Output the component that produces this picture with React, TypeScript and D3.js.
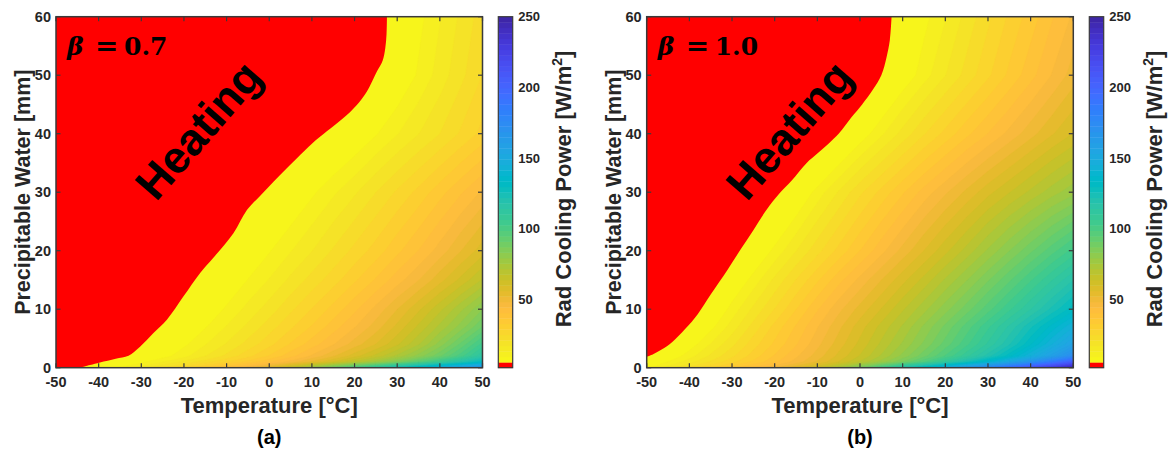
import React from 'react';
import * as d3 from 'd3';

// ---------- data ----------
const TEMPS = [-50, -45, -40, -35, -30, -25, -20, -15, -10, -5, 0, 5, 10, 15, 20, 25, 30, 35, 40, 45, 50];
const PW_LEVELS = [0, 1, 2, 4, 7, 10, 15, 20, 30, 40, 50, 60];
const X_TICKS = [-50, -40, -30, -20, -10, 0, 10, 20, 30, 40, 50];
const Y_TICKS = [0, 10, 20, 30, 40, 50, 60];
const CB_TICKS = [50, 100, 150, 200, 250];
const CB_MIN = 1.6;
const CB_MAX = 250;

// panel (a) beta = 0.7 : cooling power [W/m2] per row of precipitable water
const A_PW0 = [-5, -0.5, 4.5, 10, 15.5, 21, 27, 33, 39.5, 47, 56, 66, 78, 90, 102, 114, 126, 138, 150, 160, 170];
const A_PW1 = [-10, -6, -1, 3.5, 8, 13, 18, 23, 28.5, 34, 40, 46, 53, 60, 68, 76, 85, 95, 106, 118, 130];
const A_PW2 = [-15, -11, -6.5, -2, 3, 7.5, 12, 17, 22, 27.5, 33, 39, 45, 51.5, 58, 65, 72.5, 81, 90, 101, 114];
const A_PW4 = [-18, -14, -9.5, -5, 0, 4, 8.5, 13, 17.5, 22.5, 27.5, 33, 38.5, 44, 50, 56, 63, 71, 81, 92, 104];
const A_PW7 = [-22, -17.5, -13, -8.5, -4, 0.5, 5, 9, 13.5, 18, 23, 28, 33, 38.5, 44, 50, 57, 64.5, 72.5, 81, 91];
const A_PW10 = [-25, -21, -16.5, -12, -7.5, -2.5, 2, 6, 10, 14.5, 19, 24, 29, 34, 39.5, 45.5, 52, 59, 66.5, 74.5, 83];
const A_PW15 = [-30, -26, -21.5, -17, -12.5, -7.5, -3, 1.5, 5.5, 9.5, 13.5, 18, 22.5, 27, 32, 37, 42.5, 48, 54.5, 61, 68];
const A_PW20 = [-34, -30, -25.5, -21, -16.5, -12, -7, -2.5, 1.5, 5, 9, 13, 17, 21.5, 26, 30.5, 35.5, 40.5, 46, 52, 58];
const A_PW30 = [-44, -40, -35.5, -31, -27, -22.5, -18, -13, -8.5, -4, 1, 4.5, 8.5, 12.5, 16.5, 21, 25.5, 30, 35, 40, 45];
const A_PW40 = [-55, -51, -47, -43, -39, -35, -31, -26.5, -22, -17.5, -13, -8, -3, 1.5, 5, 9, 13, 17, 21, 25.5, 30];
const A_PW50 = [-65, -61, -57, -53, -49, -45, -41, -37, -33, -29, -25, -21, -16.5, -12, -4.5, 0, 5, 10, 15, 20, 25];
const A_PW60 = [-70, -66, -62, -58, -54, -50, -46, -42, -38, -34, -30, -26, -22, -17, -12, -3, 2.5, 8, 13, 18, 23];

// panel (b) beta = 1.0
const B_PW0 = [8, 15, 22, 28.5, 35, 41.5, 48, 55, 63, 74, 87, 103, 120, 135, 150, 165, 180, 196, 212, 228, 245];
const B_PW1 = [4, 9.5, 15.5, 21.5, 27.5, 33.5, 39.5, 46, 52.5, 60, 68, 77, 87, 98, 110, 123, 137, 152, 168, 186, 205];
const B_PW2 = [-0.5, 5.5, 11.5, 18, 24, 30.5, 37, 43.5, 50, 57, 64, 72, 80.5, 89.5, 99, 109, 120, 132, 145, 159, 174];
const B_PW4 = [-6, 0.3, 7, 13.5, 20, 27, 33.5, 40, 47, 54, 61, 68.5, 76, 84, 92.5, 101.5, 111, 121.5, 133, 145, 158];
const B_PW7 = [-13, -6.5, 0.7, 8, 15, 22.5, 30, 37, 44, 51, 58, 65, 72, 80, 88, 96.5, 105.5, 115, 125, 135, 145];
const B_PW10 = [-18, -10.5, -3.5, 3.5, 11, 18, 25, 32.5, 40, 47, 53.5, 60, 67, 74, 81.5, 89, 97, 105.5, 114, 123, 132];
const B_PW15 = [-23, -16, -9.5, -2.5, 4.5, 11, 18, 25, 32, 39, 45.5, 52, 58.5, 65, 72, 79, 86.5, 94, 102, 110, 118];
const B_PW20 = [-28, -22, -15.5, -9, -2.5, 4, 10.5, 17, 23.5, 30, 36.5, 43, 49.5, 56, 62.5, 69, 76, 83, 90, 97, 104];
const B_PW30 = [-40, -34, -28, -22, -15.5, -9, -2, 4, 11, 17.5, 24, 30, 36, 42, 47.5, 53, 58.5, 63.5, 68.5, 73.5, 78];
const B_PW40 = [-55, -50, -45, -40, -34, -27.5, -21, -14, -7, 0, 6.5, 12.5, 18.5, 24.5, 30, 35.5, 40.5, 45.5, 50.5, 55.5, 60];
const B_PW50 = [-62, -58, -54, -49, -44, -39, -33, -27, -20, -13, -6, 0, 6, 11.5, 17, 22.5, 28, 33.5, 39, 44.5, 50];
const B_PW60 = [-66, -62, -58, -53, -48, -43, -38, -32, -25, -17, -9, -3, 3, 8, 13, 18.5, 24, 29.5, 34.5, 40, 45];

// heating / cooling boundary (zero cooling power)
const A_EDGE_T = [-44.4, -42, -39.7, -36, -33, -30.3, -27.2, -24, -20.1, -16.2, -13.1, -8.4, -5.2, -2, 1, 4, 7.3, 10, 13.5, 18.2, 21, 22.9, 25.3, 26.6, 27.2, 27.5, 27.6];
const A_EDGE_PW = [0, 0.45, 0.9, 1.55, 2.05, 3.6, 5.9, 8.2, 12.2, 16.2, 18.8, 23, 27, 29.5, 31.8, 34, 36.4, 38.3, 40.4, 43.2, 45.3, 47.2, 50.7, 52.5, 54.6, 57, 60];
const B_EDGE_T = [-50, -48.5, -46.5, -44, -41, -38, -35, -31, -28, -25, -21.9, -19, -16, -12.5, -10, -5, -2, 0.5, 3, 5, 6.2, 7, 7.4];
const B_EDGE_PW = [1.85, 2.3, 3.1, 4.4, 6.6, 9.2, 12.5, 16.8, 20.2, 23.5, 27, 29.7, 32, 35, 36.6, 40, 42.8, 45, 47.5, 50, 53, 56, 60];

const FIELD_A = [A_PW0, A_PW1, A_PW2, A_PW4, A_PW7, A_PW10, A_PW15, A_PW20, A_PW30, A_PW40, A_PW50, A_PW60];
const FIELD_B = [B_PW0, B_PW1, B_PW2, B_PW4, B_PW7, B_PW10, B_PW15, B_PW20, B_PW30, B_PW40, B_PW50, B_PW60];

// ---------- colormap (parula, 64) ----------
const PARULA = [
  [0.2422, 0.1504, 0.6603], [0.2504, 0.165, 0.7076], [0.2578, 0.1818, 0.7511], [0.2647, 0.1978, 0.7952],
  [0.2706, 0.2147, 0.8364], [0.2751, 0.2342, 0.871], [0.2783, 0.2559, 0.8991], [0.2803, 0.2782, 0.9221],
  [0.2813, 0.3006, 0.9414], [0.281, 0.3228, 0.9579], [0.2795, 0.3447, 0.9717], [0.276, 0.3667, 0.9829],
  [0.2699, 0.3892, 0.9906], [0.2602, 0.4123, 0.9952], [0.244, 0.4358, 0.9988], [0.2206, 0.4603, 0.9973],
  [0.1963, 0.4847, 0.9892], [0.1834, 0.5074, 0.9798], [0.1786, 0.5289, 0.9682], [0.1764, 0.5499, 0.952],
  [0.1687, 0.5703, 0.9359], [0.154, 0.5902, 0.9218], [0.146, 0.6091, 0.9079], [0.138, 0.6276, 0.8973],
  [0.1248, 0.6459, 0.8883], [0.1113, 0.6635, 0.8763], [0.0952, 0.6798, 0.8598], [0.0689, 0.6948, 0.8394],
  [0.0297, 0.7082, 0.8163], [0.0036, 0.7203, 0.7917], [0.0067, 0.7312, 0.766], [0.0433, 0.7411, 0.7394],
  [0.0964, 0.75, 0.712], [0.1408, 0.7584, 0.6842], [0.1717, 0.767, 0.6554], [0.1938, 0.7758, 0.6251],
  [0.2161, 0.7843, 0.5923], [0.247, 0.7918, 0.5567], [0.2906, 0.7973, 0.5188], [0.3406, 0.8008, 0.4789],
  [0.3909, 0.8029, 0.4354], [0.4456, 0.8024, 0.3909], [0.5044, 0.7993, 0.348], [0.5616, 0.7942, 0.3045],
  [0.6174, 0.7876, 0.2612], [0.672, 0.7793, 0.2227], [0.7242, 0.7698, 0.191], [0.7738, 0.7598, 0.1646],
  [0.8203, 0.7498, 0.1535], [0.8634, 0.7406, 0.1596], [0.9035, 0.733, 0.1774], [0.9393, 0.7288, 0.21],
  [0.9728, 0.7298, 0.2394], [0.9956, 0.7434, 0.2371], [0.997, 0.7659, 0.2199], [0.9952, 0.7893, 0.2028],
  [0.9892, 0.8136, 0.1885], [0.9786, 0.8386, 0.1766], [0.9676, 0.8639, 0.1643], [0.961, 0.889, 0.1537],
  [0.9597, 0.9135, 0.1423], [0.9628, 0.9373, 0.1265], [0.9691, 0.9606, 0.1064], [0.9769, 0.9839, 0.0805],
].map(([r, g, b]) => d3.rgb(r * 255, g * 255, b * 255).formatHex());

const NBIN = 64;
const BIN_W = (CB_MAX - CB_MIN) / NBIN;
const binColor = (k: number) => (k <= 0 ? '#ff0000' : PARULA[63 - Math.min(63, k)]);

// ---------- layout ----------
const W = 1171;
const H = 454;
const Y0 = 16.7;
const Y1 = 367.7;
const CB_W = 14.4;
const FONT = '"Liberation Sans", Arial, Helvetica, sans-serif';
const AXC = '#262626';

const PANELS = [
  { key: 'a', x0: 56, x1: 482.5, cbX: 498.3, label: '(a)', beta: '0.7', field: FIELD_A, edgeT: A_EDGE_T, edgePW: A_EDGE_PW },
  { key: 'b', x0: 646.7, x1: 1073.3, cbX: 1089.3, label: '(b)', beta: '1.0', field: FIELD_B, edgeT: B_EDGE_T, edgePW: B_EDGE_PW },
];

function interpAxis(arr: number[], c: number) {
  const n = arr.length;
  const g = Math.max(0, Math.min(n - 1, c - 0.5));
  const i = Math.min(n - 2, Math.floor(g));
  const f = g - i;
  return arr[i] + f * (arr[i + 1] - arr[i]);
}

function Panel({ p }: { p: typeof PANELS[number] }) {
  const x = d3.scaleLinear().domain([-50, 50]).range([p.x0, p.x1]);
  const y = d3.scaleLinear().domain([0, 60]).range([Y1, Y0]);
  const cb = d3.scaleLinear().domain([CB_MIN, CB_MAX]).range([Y1, Y0]);
  const nx = TEMPS.length;
  const ny = PW_LEVELS.length;
  const flat = p.field.flat();
  const thresholds = d3.range(2, NBIN).map((k) => CB_MIN + k * BIN_W);
  const contours = d3.contours().size([nx, ny]).thresholds(thresholds)(flat);
  const toPath = (mp: any) =>
    mp.coordinates
      .map((poly: number[][][]) =>
        poly
          .map(
            (ring) =>
              'M' +
              ring
                .map(([cx, cy]) => `${x(interpAxis(TEMPS, cx)).toFixed(2)},${y(interpAxis(PW_LEVELS, cy)).toFixed(2)}`)
                .join('L') +
              'Z'
          )
          .join('')
      )
      .join('');

  const edge = p.edgeT.map((t, i) => [t, p.edgePW[i]] as [number, number]);
  const line = d3
    .line<[number, number]>()
    .x((d) => x(d[0]))
    .y((d) => y(d[1]))
    .curve(d3.curveCatmullRom.alpha(0.5));
  const redPath = line(edge) + `L${x(-50)},${y(60)}L${x(-50)},${y(edge[0][1])}L${x(-50)},${y(0)}L${x(edge[0][0])},${y(0)}Z`;
  const clipId = `clip-${p.key}`;
  const cx = (p.x0 + p.x1) / 2;
  const tl = 4.5;

  return (
    <g>
      <defs>
        <clipPath id={clipId}>
          <rect x={p.x0} y={Y0} width={p.x1 - p.x0} height={Y1 - Y0} />
        </clipPath>
      </defs>
      <g clipPath={`url(#${clipId})`}>
        <rect x={p.x0} y={Y0} width={p.x1 - p.x0} height={Y1 - Y0} fill={binColor(1)} />
        {contours.map((c, i) => {
          const k = Math.round((c.value - CB_MIN) / BIN_W);
          return <path key={i} d={toPath(c)} fill={binColor(k)} stroke={binColor(k)} strokeWidth={0.3} />;
        })}
        <path d={redPath} fill="#ff0000" />
      </g>
      {/* frame */}
      <rect x={p.x0} y={Y0} width={p.x1 - p.x0} height={Y1 - Y0} fill="none" stroke="#3a3a3a" strokeWidth={1.5} />
      {X_TICKS.map((t) => (
        <g key={'xt' + t}>
          <line x1={x(t)} x2={x(t)} y1={Y1} y2={Y1 - tl} stroke="#3a3a3a" strokeWidth={1.2} />
          <line x1={x(t)} x2={x(t)} y1={Y0} y2={Y0 + tl} stroke="#3a3a3a" strokeWidth={1.2} />
          <text x={x(t)} y={387} textAnchor="middle" fontFamily={FONT} fontWeight="bold" fontSize={14.5} fill={AXC}>
            {t}
          </text>
        </g>
      ))}
      {Y_TICKS.map((t) => (
        <g key={'yt' + t}>
          <line x1={p.x0} x2={p.x0 + tl} y1={y(t)} y2={y(t)} stroke="#3a3a3a" strokeWidth={1.2} />
          <line x1={p.x1} x2={p.x1 - tl} y1={y(t)} y2={y(t)} stroke="#3a3a3a" strokeWidth={1.2} />
          <text x={p.x0 - 5} y={y(t)} dy="0.35em" textAnchor="end" fontFamily={FONT} fontWeight="bold" fontSize={14.5} fill={AXC}>
            {t}
          </text>
        </g>
      ))}
      {/* axis labels */}
      <text x={cx} y={413} textAnchor="middle" fontFamily={FONT} fontWeight="bold" fontSize={22} fill={AXC}>
        Temperature [°C]
      </text>
      <text transform={`translate(${p.x0 - 26},${(Y0 + Y1) / 2}) rotate(-90)`} textAnchor="middle" fontFamily={FONT} fontWeight="bold" fontSize={21.5} fill={AXC}>
        Precipitable Water [mm]
      </text>
      <text x={cx} y={444} textAnchor="middle" fontFamily={FONT} fontWeight="bold" fontSize={20} fill="#000">
        {p.label}
      </text>
      {/* annotations */}
      <text x={p.x0 + 11} y={55} fontFamily='"DejaVu Serif", serif' fontWeight="bold" fontSize={25} fill="#000">
        <tspan fontStyle="italic">β</tspan>
        <tspan x={p.x0 + 39} fontSize={28}>=</tspan>
        <tspan x={p.x0 + 68}>{p.beta}</tspan>
      </text>
      <text
        transform={`translate(${p.x0 + 142},${Y0 + 113}) rotate(-49)`}
        textAnchor="middle"
        dy="0.36em"
        fontFamily={FONT}
        fontWeight="bold"
        fontSize={45}
        fill="#000"
      >
        Heating
      </text>
      {/* colorbar */}
      {d3.range(NBIN).map((k) => (
        <rect
          key={'cb' + k}
          x={p.cbX}
          y={cb(CB_MIN + (k + 1) * BIN_W)}
          width={CB_W}
          height={cb(CB_MIN + k * BIN_W) - cb(CB_MIN + (k + 1) * BIN_W) + 0.4}
          fill={binColor(k)}
        />
      ))}
      <rect x={p.cbX} y={Y0} width={CB_W} height={Y1 - Y0} fill="none" stroke="#3a3a3a" strokeWidth={1.2} />
      {CB_TICKS.map((t) => (
        <text key={'cbt' + t} x={p.cbX + CB_W + 5.5} y={cb(t)} dy="0.35em" fontFamily={FONT} fontWeight="bold" fontSize={13} fill={AXC}>
          {t}
        </text>
      ))}
      <text transform={`translate(${p.cbX + 73},${189}) rotate(-90)`} textAnchor="middle" fontFamily={FONT} fontWeight="bold" fontSize={22} fill={AXC}>
        Rad Cooling Power [W/m
        <tspan dy={-9} fontSize={14}>
          2
        </tspan>
        <tspan dy={9}>]</tspan>
      </text>
    </g>
  );
}

export default function App() {
  return (
    <svg width={W} height={H} style={{ position: 'absolute', left: 0, top: 0, background: '#fff' }}>
      <rect width={W} height={H} fill="#fff" />
      {PANELS.map((p) => (
        <Panel key={p.key} p={p} />
      ))}
    </svg>
  );
}
